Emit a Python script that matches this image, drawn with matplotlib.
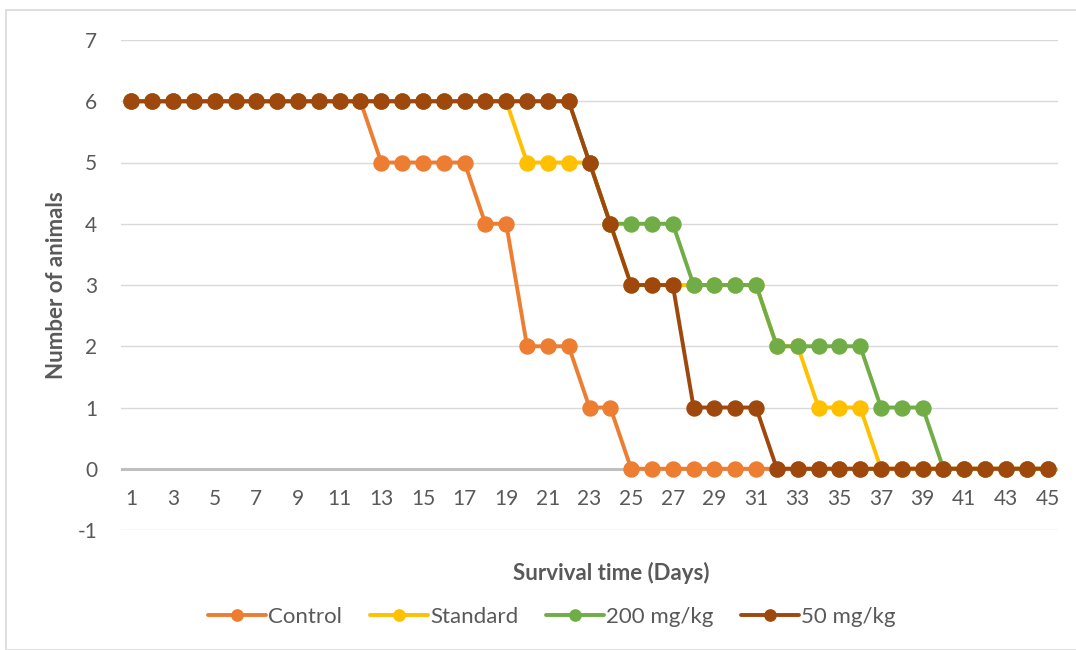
import matplotlib
matplotlib.use("Agg")
import matplotlib.pyplot as plt
from matplotlib.patches import Rectangle

plt.rcParams['font.family'] = ['Lato', 'DejaVu Sans']

days = list(range(1, 46))

control = [6]*12 + [5]*5 + [4]*2 + [2]*3 + [1]*2 + [0]*21
standard = [6]*19 + [5]*4 + [4] + [3]*7 + [2]*2 + [1]*3 + [0]*9
mg200 = [6]*22 + [5] + [4]*4 + [3]*4 + [2]*5 + [1]*3 + [0]*6
mg50 = [6]*22 + [5] + [4] + [3]*3 + [1]*4 + [0]*14

series = [
    ("Control", control, "#ED7D31"),
    ("Standard", standard, "#FFC000"),
    ("200 mg/kg", mg200, "#70AD47"),
    ("50 mg/kg", mg50, "#9E480E"),
]

y_ticks = list(range(-1, 8))
x_tick_labels = [str(d) for d in days[::2]]

text_color = "#595959"

fig = plt.figure(figsize=(10.76, 6.5), dpi=100)
fig.patches.append(Rectangle((6/1076, 0), 1.1, 1 - 10/650, transform=fig.transFigure,
                             fill=False, edgecolor="#D9D9D9", linewidth=1.2))

ax = fig.add_axes([121/1076, 1 - 530/650, (1058 - 121)/1076, (530 - 40)/650])

for y in y_ticks:
    if y == 0:
        continue
    ax.axhline(y, color="#D9D9D9", linewidth=1.0, zorder=0)
ax.axhline(0, color="#BFBFBF", linewidth=2.2, zorder=0.5)

for name, vals, col in series:
    ax.plot(days, vals, color=col, linewidth=2.8, marker='o', markersize=10.8,
            label=name, solid_capstyle='round', solid_joinstyle='round')

ax.set_xlim(0.5, 45.5)
ax.set_ylim(-1, 7)
ax.set_yticks(y_ticks)
ax.set_yticklabels([str(v) for v in y_ticks])
for s in ax.spines.values():
    s.set_visible(False)
ax.tick_params(axis='both', length=0, labelsize=15, labelcolor=text_color)
ax.tick_params(axis='y', pad=17)
ax.set_xticks([])

# category labels sit just below the zero line
for d, lab in zip(days[::2], x_tick_labels):
    ax.text(d, -0.5, lab, ha='center', va='center', fontsize=15, color=text_color)

fig.text(611/1076, 1 - 573/650, "Survival time (Days)", ha='center', va='center',
         fontsize=16, fontweight='bold', color=text_color)
fig.text(57/1076, 1 - 285/650, "Number of animals", ha='center', va='center',
         rotation=90, fontsize=16, fontweight='bold', color=text_color)

handles, labels = ax.get_legend_handles_labels()
leg = fig.legend(handles, labels, loc='center', bbox_to_anchor=(552/1076, 1 - 617/650),
                 ncol=4, frameon=False, fontsize=16, handlelength=2.6,
                 handletextpad=0.1, columnspacing=1.25, markerscale=0.75)
for t in leg.get_texts():
    t.set_color(text_color)

fig.savefig("out.png", dpi=100, facecolor="white")
